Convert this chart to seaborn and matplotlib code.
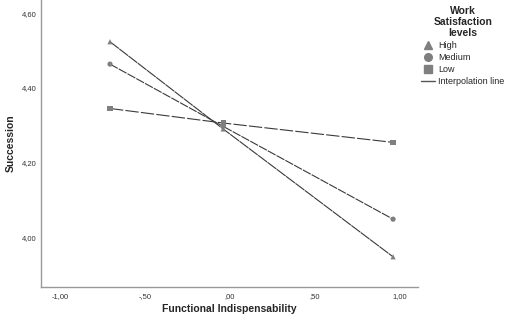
import matplotlib
matplotlib.use("Agg")
import matplotlib.pyplot as plt
from matplotlib.lines import Line2D
import seaborn as sns
import pandas as pd

x_values = [-0.706, -0.04, 0.96]
high = [4.524, 4.290, 3.947]
medium = [4.464, 4.297, 4.048]
low = [4.345, 4.306, 4.254]
levels = ["High", "Medium", "Low"]
x_ticks = [-1.0, -0.5, 0.0, 0.5, 1.0]
x_tick_labels = ["-1,00", "-,50", ",00", ",50", "1,00"]
y_ticks = [4.0, 4.2, 4.4, 4.6]
y_tick_labels = ["4,00", "4,20", "4,40", "4,60"]

rows = []
for lvl, vals in zip(levels, [high, medium, low]):
    for xv, yv in zip(x_values, vals):
        rows.append({"x": xv, "y": yv, "level": lvl})
df = pd.DataFrame(rows)

sns.set_style("white")
plt.rcParams['font.family'] = ['Liberation Sans', 'DejaVu Sans']

fig = plt.figure(figsize=(5.14, 3.17), dpi=100)
ax = fig.add_axes([0.0798, 0.0946, 0.7332, 0.9054])

line_col = "#3a3a3a"
mark_col = "#7f7f7f"
dashes = {"High": (10, 0.5), "Medium": (8, 1.0), "Low": (12, 2)}
markers = {"High": "^", "Medium": "o", "Low": "s"}

sns.lineplot(data=df, x="x", y="y", hue="level", style="level",
             palette={l: line_col for l in levels}, dashes=dashes,
             linewidth=0.8, ax=ax, legend=False, sort=True)
sns.scatterplot(data=df, x="x", y="y", hue="level", style="level",
                palette={l: mark_col for l in levels}, markers=markers,
                s=14, edgecolor="none", ax=ax, legend=False, zorder=3)

ax.set_xlim(-1.112, 1.106)
ax.set_ylim(3.866, 4.636)
ax.set_xticks(x_ticks)
ax.set_xticklabels(x_tick_labels)
ax.set_yticks(y_ticks)
ax.set_yticklabels(y_tick_labels)
ax.tick_params(axis="x", length=0, labelsize=5.5, colors="#333333", pad=4)
ax.tick_params(axis="y", length=0, labelsize=5.5, colors="#333333", pad=3)
for s in ["top", "right"]:
    ax.spines[s].set_visible(False)
for s in ["left", "bottom"]:
    ax.spines[s].set_color("#999999")
    ax.spines[s].set_linewidth(1.0)

ax.set_xlabel("Functional Indispensability", fontsize=7.5, fontweight="bold")
ax.set_ylabel("Succession", fontsize=7.5, fontweight="bold")
ax.xaxis.set_label_coords(0.5, -0.06)
ax.yaxis.set_label_coords(-0.068, 0.5)

handles = [
    Line2D([], [], marker="^", color=mark_col, linestyle="none", markersize=5.5),
    Line2D([], [], marker="o", color=mark_col, linestyle="none", markersize=5.5),
    Line2D([], [], marker="s", color=mark_col, linestyle="none", markersize=5.5),
    Line2D([], [], color="#555555", linewidth=1.0),
]
leg = fig.legend(handles, ["High", "Medium", "Low", "Interpolation line"],
                 title="Work\nSatisfaction\nlevels", loc="upper left",
                 bbox_to_anchor=(0.805, 1.005), frameon=False, fontsize=6.5,
                 handlelength=1.5, handletextpad=0.4, labelspacing=0.33,
                 borderpad=0.3)
leg.get_title().set_fontweight("bold")
leg.get_title().set_fontsize(7.5)
leg.get_title().set_ha("center")
leg.get_title().set_linespacing(1.15)
leg._legend_box.align = "center"

fig.savefig("out.png", dpi=100)
